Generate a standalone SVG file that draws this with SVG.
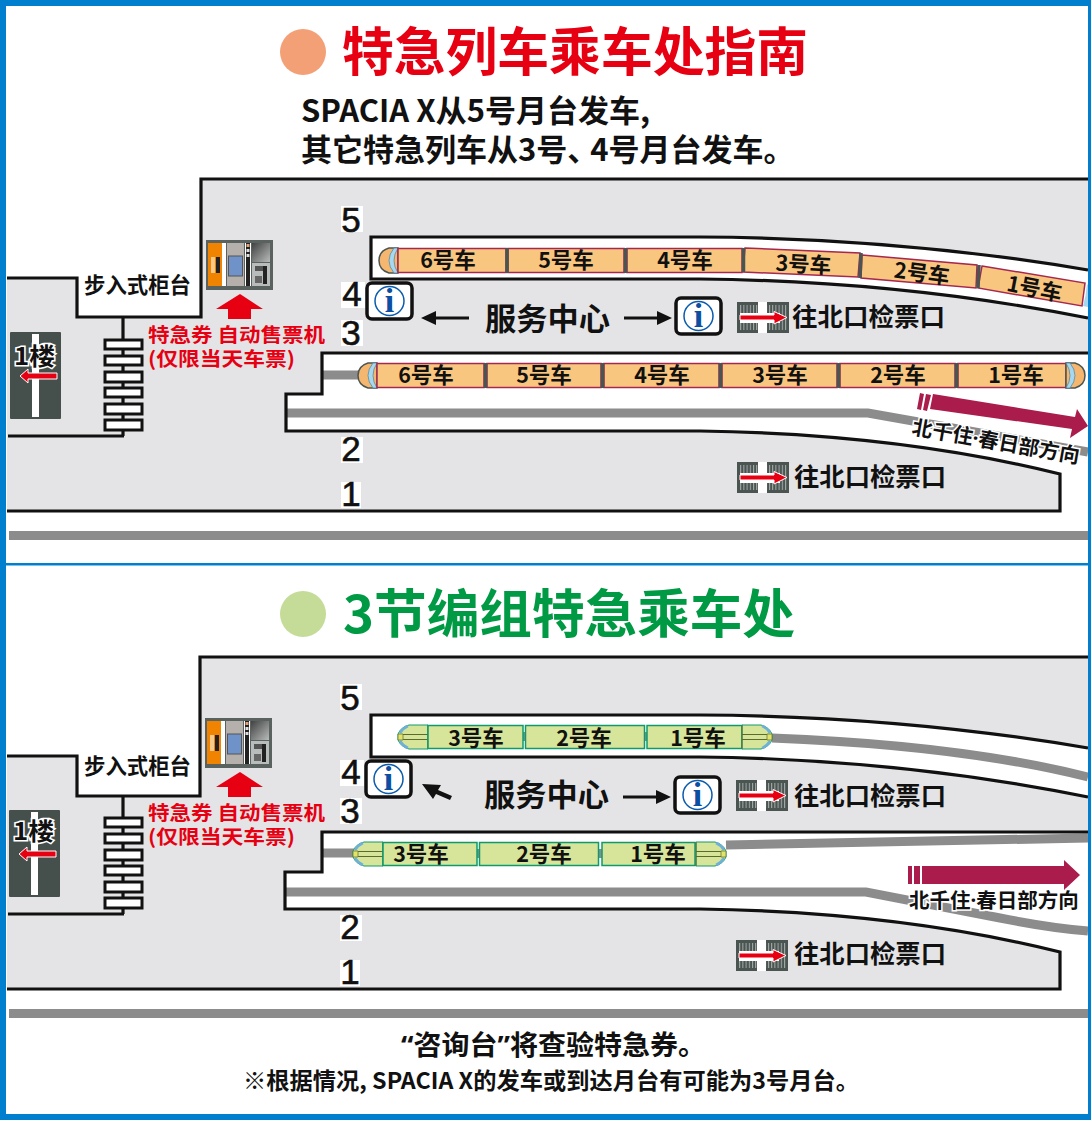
<svg xmlns="http://www.w3.org/2000/svg" width="1091" height="1123" viewBox="0 0 1091 1123">
<style>
text{font-family:"Noto Sans CJK SC","Noto Sans",sans-serif;font-weight:700;fill:#111}
.car{font-size:21.5px;text-anchor:middle}
.num{font-family:"Liberation Sans",Arial,sans-serif;font-weight:400;font-size:35px;text-anchor:middle;stroke:#111;stroke-width:.6}
.red{fill:#e60012;font-size:19.5px}
.gt{font-size:25.5px}
.lbl{font-size:20.5px}
.lat{font-family:"Noto Sans",sans-serif}
.wall{fill:none;stroke:#111;stroke-width:3.2;stroke-linejoin:miter}
.rail{fill:none;stroke:#8c8c8c;stroke-width:9}
.oc{fill:#f9c680;stroke:#a6284f;stroke-width:1.5}
.gc{fill:#d6e59a;stroke:#0f9a6e;stroke-width:1.5}
.sep{stroke:#4a5552;stroke-width:3.5;fill:none}
.gap{fill:#8c8c8c}
.ib{fill:#fff;stroke:#111;stroke-width:3.5}
.ic{fill:#fff;stroke:#0b5cad;stroke-width:1.5}
.ii{font-family:"Liberation Serif",serif;font-size:34px;fill:#0b4ea2;text-anchor:middle}
.bar{fill:#fff;stroke:#111;stroke-width:3}
</style>
<defs>
<pattern id="st" width="3.2" height="10" patternUnits="userSpaceOnUse"><rect width="3.2" height="10" fill="#4a5552"/><rect width="1" height="10" fill="#a8aeac"/></pattern>
<linearGradient id="tg" x1="0" y1="0" x2="1" y2="1"><stop offset="0" stop-color="#3f4241"/><stop offset="1" stop-color="#b9bbba"/></linearGradient>
<g id="gate"><rect width="52" height="31" fill="#4a5552"/><rect x="2" y="3" width="48" height="25" fill="url(#st)"/><rect x="21" width="9" height="31" fill="#fff"/><rect x="3" y="11" width="40" height="10" fill="#fff"/><path d="M3 13H37V9.500L50 15.500 37 22V18H3Z" fill="#e60012" stroke="#fff" stroke-width="1"/></g>
<g id="tvm"><rect width="67" height="50" fill="#59625f"/><rect x="2" y="3" width="14" height="43" fill="#f08300"/><rect x="5" y="17" width="4" height="16" fill="#f7c98a"/><rect x="10" y="17" width="4" height="16" fill="#222"/><rect x="16" y="3" width="4" height="43" fill="#fff"/><rect x="21" y="3" width="17" height="43" fill="#b5b0ac"/><rect x="22.500" y="16" width="14" height="20" fill="#6f92c8" stroke="#555"/><rect x="39" y="3" width="6" height="43" fill="#fff"/><rect x="40" y="3" width="4" height="43" fill="#222"/><rect x="40.500" y="4" width="3" height="3" fill="#e8a27a"/><rect x="40.500" y="9" width="3" height="3" fill="#ddd"/><rect x="40.500" y="14" width="3" height="3" fill="#ddd"/><rect x="46" y="3" width="18" height="19" fill="url(#tg)"/><rect x="46" y="23" width="18" height="23" fill="#b8bcba"/><rect x="49" y="26" width="9" height="5" fill="#555"/><rect x="57" y="26" width="4" height="18" fill="#222"/><rect x="49" y="36" width="7" height="7" fill="#666"/></g>
<g id="stairs"><path d="M19 -22V96" stroke="#111" stroke-width="3.2" fill="none"/><rect class="bar" x="1" y="0" width="37" height="9"/><rect class="bar" x="1" y="16" width="37" height="9"/><rect class="bar" x="1" y="32" width="37" height="10"/><rect class="bar" x="1" y="48" width="37" height="9"/><rect class="bar" x="1" y="64" width="37" height="10"/><rect class="bar" x="1" y="80" width="37" height="10"/></g>
<g id="floor"><rect width="51" height="87" rx="1" fill="#454f4b"/><rect x="22" y="2" width="7" height="83" fill="#fff"/><path d="M10 44 18 37V41H47V47H18V51Z" fill="#e60012" stroke="#fff" stroke-width="1"/></g>
<g id="info"><rect class="ib" width="45" height="36" rx="5"/><circle class="ic" cx="22.5" cy="18" r="14.500"/></g>
<g id="onose"><path d="M19 0H10Q0 3 0 12.500 0 22 10 25H19Z" fill="#f5b76f" stroke="#4a5552" stroke-width="1.500"/><path d="M19 0H15Q10 6 10 12.500 10 19 15 25H19Q15 19 15 12.500 15 6 19 0Z" fill="#a8d8f0" stroke="#4a7f9a" stroke-width=".7"/></g>
<g id="ghead"><path d="M31 0H12Q4 2 1 9V15Q4 22 12 24H31Z" fill="#d6e59a" stroke="#0f9a6e"/><path d="M11 1Q6 3 3 8M11 23Q6 21 3 16" stroke="#6fb0d8" stroke-width="2.500" fill="none"/><path d="M31 0V24M6 9.500H31M6 14.500H31" stroke="#5b6b2a" fill="none"/><path d="M1 9H6V15H1Z" fill="#e3e36b" stroke="#6b7a30" stroke-width=".8"/></g>
<path id="red-up" d="M0 15 24 0 47 15H35V25H12V15Z" fill="#e60012"/>
<path id="k-arrow" d="M0 0 15 -7V-1.500H48V1.500H15V7Z" fill="#111"/>
</defs>
<rect width="1091" height="1123" fill="#fff"/>

<g id="titles">
<circle cx="303" cy="52" r="23" fill="#f4a076"/>
<text x="342" y="71" font-size="52" style="fill:#e60012" textLength="466" lengthAdjust="spacingAndGlyphs">特急列车乘车处指南</text>
<text x="301" y="122" font-size="31">SPACIA X从5号月台发车,</text>
<text x="301" y="161" font-size="31">其它特急列车从3号、<tspan dx="-8">4号月台发车。</tspan></text>
<circle cx="303" cy="614" r="23" fill="#c4dc98"/>
<text x="343" y="633" font-size="52" style="fill:#009944" textLength="452" lengthAdjust="spacingAndGlyphs">3节编组特急乘车处</text>
<text x="401" y="1055" font-size="27" textLength="305" lengthAdjust="spacingAndGlyphs"><tspan class="lat">“</tspan>咨询台<tspan class="lat">”</tspan>将查验特急券。</text>
<text x="243" y="1089" font-size="23" textLength="616" lengthAdjust="spacingAndGlyphs">※根据情况, SPACIA X的发车或到达月台有可能为3号月台。</text>
</g>

<g id="plan-top">
<path d="M7 278H77V317H201V179H1088V511H7Z" fill="#e4e4e6"/>
<path d="M322 353H1088V511H1060V474Q900 434 700 431H286V394H322Z" fill="#fff"/>
<path d="M371 237H700Q900 238 1088 270V318Q900 280 700 279H371Z" fill="#fff"/>
<path class="rail" d="M286 413H868L1088 452"/>
<path class="rail" d="M322 375H365"/>
<path class="wall" d="M7 278H77V317H201V179H1088"/>
<path class="wall" d="M1088 270Q900 238 700 237H371V279H700Q900 281 1088 318"/>
<path class="wall" d="M1088 353H322V394H286V431H700Q900 434 1060 474V511H7"/>
<path class="wall" d="M8 436H124"/>
<use href="#stairs" x="104" y="340"/>
<rect x="9" y="531" width="1079" height="9" fill="#8c8c8c"/>
</g>
<g id="plan-bottom">
<path d="M7 756H77V796H200V657H1088V989H7Z" fill="#e4e4e6"/>
<path d="M322 832H1088V989H1060V952Q900 912 700 909H285V872H322Z" fill="#fff"/>
<path d="M371 715H700Q900 716 1088 748V797Q900 758 700 757H371Z" fill="#fff"/>
<path class="rail" d="M285 892H866L1000 918Q1050 928 1088 931"/>
<path class="rail" d="M322 853H360"/>
<path class="rail" d="M726 845L1088 838"/>
<path class="rail" d="M772 738Q960 745 1088 777"/>
<path class="wall" d="M7 756H77V796H200V657H1088"/>
<path class="wall" d="M1088 748Q900 716 700 715H371V757H700Q900 759 1088 797"/>
<path class="wall" d="M1088 832H322V872H285V909H700Q900 912 1060 952V989H7"/>
<path class="wall" d="M8 914H124"/>
<use href="#stairs" x="104" y="818"/>
<rect x="9" y="1009" width="1079" height="9" fill="#8c8c8c"/>
</g>

<g id="frame" fill="#007fce"><rect x="0" y="0" width="1091" height="6"/><rect x="0" y="0" width="6" height="1120"/><rect x="1088" y="0" width="3" height="1120"/><rect x="0" y="1114" width="1091" height="6"/><rect x="6" y="563" width="1082" height="2.500"/></g>

<g id="platform-numbers">
<rect x="341" y="206" width="22" height="26" fill="#fff"/><text class="num" x="351" y="232">5</text>
<rect x="341" y="282" width="24" height="26" fill="#fff"/><text class="num" x="352" y="306">4</text>
<rect x="341" y="320" width="22" height="26" fill="#fff"/><text class="num" x="351" y="345">3</text>
<rect x="341" y="437" width="22" height="26" fill="#fff"/><text class="num" x="351" y="461">2</text>
<rect x="341" y="482" width="20" height="26" fill="#fff"/><text class="num" x="351" y="506">1</text>
<rect x="340" y="684" width="22" height="26" fill="#fff"/><text class="num" x="350" y="710">5</text>
<rect x="340" y="760" width="24" height="26" fill="#fff"/><text class="num" x="351" y="784">4</text>
<rect x="340" y="798" width="22" height="26" fill="#fff"/><text class="num" x="350" y="823">3</text>
<rect x="340" y="915" width="22" height="26" fill="#fff"/><text class="num" x="350" y="939">2</text>
<rect x="340" y="960" width="20" height="26" fill="#fff"/><text class="num" x="350" y="984">1</text>
</g>

<g id="counter-top"><text x="84" y="293" font-size="21.500" textLength="107" lengthAdjust="spacingAndGlyphs">步入式柜台</text></g>
<g id="counter-bottom"><text x="84" y="774" font-size="21.500" textLength="107" lengthAdjust="spacingAndGlyphs">步入式柜台</text></g>

<g id="floor-top"><use href="#floor" x="10" y="332"/><text x="14" y="365" font-size="24" stroke="#fff" stroke-width="3" paint-order="stroke" textLength="41" lengthAdjust="spacingAndGlyphs">1楼</text></g>
<g id="floor-bottom"><use href="#floor" x="9" y="810"/><text x="13" y="840" font-size="24" stroke="#fff" stroke-width="3" paint-order="stroke" textLength="41" lengthAdjust="spacingAndGlyphs">1楼</text></g>

<g id="tvm-top"><use href="#tvm" x="206" y="240"/><use href="#red-up" x="216" y="294"/>
<text class="red" style="fill:#e60012" x="148" y="342" textLength="177" lengthAdjust="spacingAndGlyphs">特急券 自动售票机</text>
<text class="red" style="fill:#e60012" x="148" y="366" textLength="147" lengthAdjust="spacingAndGlyphs">(仅限当天车票)</text></g>
<g id="tvm-bottom"><use href="#tvm" x="205" y="718"/><use href="#red-up" x="216" y="772"/>
<text class="red" style="fill:#e60012" x="148" y="820" textLength="177" lengthAdjust="spacingAndGlyphs">特急券 自动售票机</text>
<text class="red" style="fill:#e60012" x="148" y="844" textLength="147" lengthAdjust="spacingAndGlyphs">(仅限当天车票)</text></g>

<g id="train-top-upper">
<use href="#onose" x="379" y="248"/>
<rect class="oc" x="398" y="248.500" width="108" height="24"/><rect class="oc" x="508" y="248.500" width="116" height="24"/><rect class="oc" x="627" y="248.500" width="115" height="24"/>
<path class="oc" d="M745 248 860 253 858 277 743 272Z"/><path class="oc" d="M862 255 977 265 976 288 861 278Z"/><path class="oc" d="M982 266 1085 283 1082 306 978 288Z"/>
<path d="M1087 284 1088 285V307L1083 306Q1086 296 1087 284Z" fill="#a8d8f0"/>
<path class="sep" d="M507 248V273M625.500 248V273M743.500 248V272M861 253 860 278M979 265 978 288"/>
<text class="car" x="448" y="268">6号车</text><text class="car" x="566" y="268">5号车</text><text class="car" x="685" y="268">4号车</text>
<text class="car" transform="translate(803 272) rotate(3)">3号车</text><text class="car" transform="translate(921 281) rotate(7)">2号车</text><text class="car" transform="translate(1033 296) rotate(11)">1号车</text>
</g>
<g id="train-top-lower">
<use href="#onose" x="358" y="363"/>
<rect class="oc" x="377" y="363.500" width="107" height="24"/><rect class="oc" x="487" y="363.500" width="114" height="24"/><rect class="oc" x="604" y="363.500" width="115" height="24"/><rect class="oc" x="722" y="363.500" width="115" height="24"/><rect class="oc" x="840" y="363.500" width="115" height="24"/><rect class="oc" x="958" y="363.500" width="108" height="24"/>
<use href="#onose" transform="translate(1085 363) scale(-1 1)"/>
<path class="sep" d="M485.500 363V388M602.500 363V388M720.500 363V388M838.500 363V388M956.500 363V388"/>
<text class="car" x="426" y="383">6号车</text><text class="car" x="544" y="383">5号车</text><text class="car" x="662" y="383">4号车</text><text class="car" x="780" y="383">3号车</text><text class="car" x="898" y="383">2号车</text><text class="car" x="1016" y="383">1号车</text>
</g>
<g id="train-bottom-upper">
<rect class="gap" x="522" y="732" width="4" height="9"/><rect class="gap" x="644" y="732" width="4" height="9"/>
<use href="#ghead" x="397" y="725"/>
<rect class="gc" x="428" y="725.500" width="95" height="23"/><rect class="gc" x="525.500" y="725.500" width="119" height="23"/><rect class="gc" x="647" y="725.500" width="95" height="23"/>
<use href="#ghead" transform="translate(773 725) scale(-1 1)"/>
<text class="car" x="476" y="746">3号车</text><text class="car" x="584" y="746">2号车</text><text class="car" x="698" y="746">1号车</text>
</g>
<g id="train-bottom-lower">
<rect class="gap" x="476" y="849" width="4" height="9"/><rect class="gap" x="598" y="849" width="5" height="9"/>
<use href="#ghead" x="352" y="842"/>
<rect class="gc" x="383" y="842.500" width="94" height="23"/><rect class="gc" x="479.500" y="842.500" width="119" height="23"/><rect class="gc" x="602" y="842.500" width="93" height="23"/>
<use href="#ghead" transform="translate(727 842) scale(-1 1)"/>
<text class="car" x="421" y="862">3号车</text><text class="car" x="544" y="862">2号车</text><text class="car" x="658" y="862">1号车</text>
</g>

<g id="service-top">
<use href="#info" x="367" y="283"/><text class="ii" x="389.500" y="312">i</text>
<use href="#info" x="676" y="298"/><text class="ii" x="698.500" y="327">i</text>
<use href="#k-arrow" x="421" y="318"/>
<use href="#k-arrow" transform="translate(672 318) scale(-1 1)"/>
<text x="485" y="330" font-size="31" textLength="125" lengthAdjust="spacingAndGlyphs">服务中心</text>
</g>
<g id="service-bottom">
<use href="#info" x="366" y="761"/><text class="ii" x="388.500" y="790">i</text>
<use href="#info" x="675" y="777"/><text class="ii" x="697.500" y="806">i</text>
<path d="M422 784 441 785 438 790 452 796 450 800 436 794 433 799Z" fill="#111"/>
<use href="#k-arrow" transform="translate(671 797) scale(-1 1)"/>
<text x="484" y="806" font-size="31" textLength="125" lengthAdjust="spacingAndGlyphs">服务中心</text>
</g>

<g id="gate-top-1"><use href="#gate" x="737" y="302"/><text class="gt" x="792" y="326" textLength="153" lengthAdjust="spacingAndGlyphs">往北口检票口</text></g>
<g id="gate-top-2"><use href="#gate" x="737" y="462"/><text class="gt" x="794" y="486" textLength="152" lengthAdjust="spacingAndGlyphs">往北口检票口</text></g>
<g id="gate-bottom-1"><use href="#gate" x="736" y="780"/><text class="gt" x="794" y="805" textLength="152" lengthAdjust="spacingAndGlyphs">往北口检票口</text></g>
<g id="gate-bottom-2"><use href="#gate" x="736" y="940"/><text class="gt" x="794" y="963" textLength="152" lengthAdjust="spacingAndGlyphs">往北口检票口</text></g>

<g id="direction-top">
<path d="M920 393 924 394 921 410 917 409ZM926 394 931 395 927 411 923 410ZM933 394 1075 417 1077 409 1088 426 1070 438 1072 429 930 409Z" fill="#a91c4b"/>
<text transform="translate(911 434) rotate(10)" class="lbl" stroke="#fff" stroke-width="3" paint-order="stroke">北千住<tspan class="lat">·</tspan>春日部方向</text>
</g>
<g id="direction-bottom">
<path d="M908 866H912V884H908ZM914 866H920V884H914ZM922 866H1064V860L1080 875 1064 890V884H922Z" fill="#a91c4b"/>
<text x="909" y="908" class="lbl" stroke="#fff" stroke-width="3" paint-order="stroke">北千住<tspan class="lat">·</tspan>春日部方向</text>
</g>
</svg>
